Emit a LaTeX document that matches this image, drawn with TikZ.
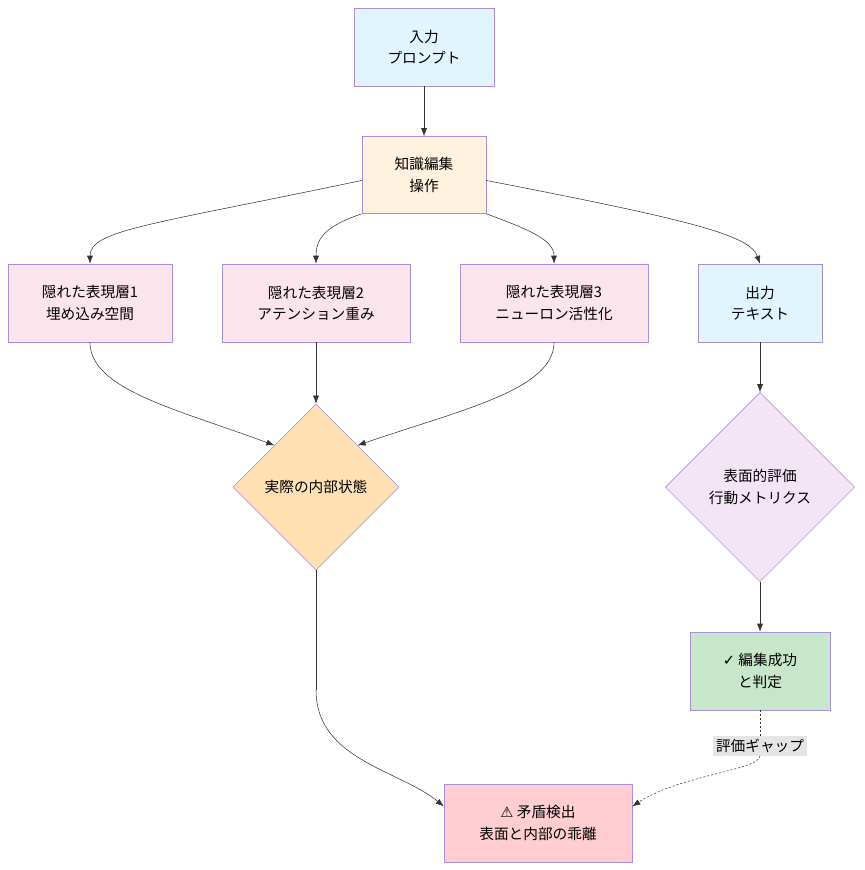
\documentclass[tikz,border=0pt]{standalone}
\usepackage{fontspec}
\setmainfont{Noto Sans CJK JP}
\newfontfamily\symfont{DejaVu Sans}
\usetikzlibrary{shapes.geometric,arrows.meta}
\definecolor{edgeline}{HTML}{333333}
\definecolor{border}{HTML}{A98FD8}
\definecolor{cblue}{HTML}{E1F5FE}
\definecolor{corange}{HTML}{FFF3E0}
\definecolor{cpink}{HTML}{FCE4EC}
\definecolor{cpeach}{HTML}{FFE0B2}
\definecolor{cviolet}{HTML}{F3E5F5}
\definecolor{cgreen}{HTML}{C8E6C9}
\definecolor{cred}{HTML}{FFCDD2}
\tikzstyle{box} = [draw=border, rectangle, align=center, font=\fontsize{11}{16}\selectfont,
    minimum height=58.5pt, inner sep=2pt]
\tikzstyle{decision} = [draw=border, diamond, align=center, font=\fontsize{11}{16}\selectfont,
    inner sep=0pt, aspect=1]
\tikzstyle{line} = [draw=edgeline, -{Latex[length=6pt,width=4.5pt]}]
\tikzstyle{gapline} = [draw=edgeline, dash pattern=on 1.5pt off 1.5pt]

\begin{document}
\begin{tikzpicture}[x=0.75pt, y=-0.75pt]
    \useasboundingbox (0,0) rectangle (864,870);
    \node [box, fill=cblue, minimum width=105pt] (input) at (424,47) {入力\\プロンプト};
    \node [box, fill=corange, minimum width=93pt, minimum height=57.75pt] (edit) at (424,175) {知識編集\\操作};
    \node [box, fill=cpink, minimum width=123pt] (hidden1) at (90,303) {隠れた表現層1\\埋め込み空間};
    \node [box, fill=cpink, minimum width=141pt] (hidden2) at (316,303) {隠れた表現層2\\アテンション重み};
    \node [box, fill=cpink, minimum width=141pt] (hidden3) at (554,303) {隠れた表現層3\\ニューロン活性化};
    \node [box, fill=cblue, minimum width=93pt] (output) at (760,303) {出力\\テキスト};
    \node [decision, fill=cpeach, minimum size=124.5pt] (actual) at (316,487) {実際の内部状態};
    \node [decision, fill=cviolet, minimum size=141.75pt] (surface) at (760,487) {表面的評価\\行動メトリクス};
    \node [box, fill=cgreen, minimum width=105pt] (success) at (760,671) {{\symfont ✓} 編集成功\\と判定};
    \node [box, fill=cred, minimum width=141pt] (conflict) at (538,823) {{\symfont ⚠} 矛盾検出\\表面と内部の乖離};
    \node [fill=gray!20, inner sep=2pt, font=\fontsize{11}{12}\selectfont] (gap) at (760,746) {評価ギャップ};
    \coordinate (bend1) at (316,690);
    \path [line] (input) -- (edit);
    \path [line] (edit.185) .. controls (150,225) and (90,230) .. (hidden1.north);
    \path [line] (edit.south west) .. controls (330,225) and (316,235) .. (hidden2.north);
    \path [line] (edit.south east) .. controls (530,230) and (554,240) .. (hidden3.north);
    \path [line] (edit.355) .. controls (690,220) and (750,235) .. (output.north);
    \path [line] (hidden1.south) .. controls (90,390) and (180,410) .. (actual.north west);
    \path [line] (hidden2) -- (actual);
    \path [line] (hidden3.south) .. controls (554,390) and (460,410) .. (actual.north east);
    \path [line] (output) -- (surface);
    \path [line] (surface) -- (success);
    \draw [edgeline] (actual.south) -- (bend1);
    \path [line] (bend1) .. controls (316,760) and (400,770) .. (conflict.170);
    \path [gapline] (success.south) -- (gap.north);
    \path [line, gapline] (gap.south) .. controls (760,770) and (680,775) .. (conflict.10);
\end{tikzpicture}
\end{document}
